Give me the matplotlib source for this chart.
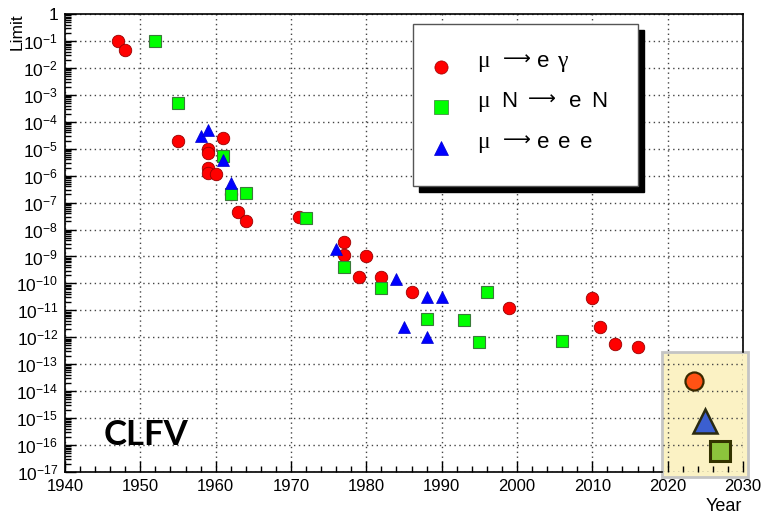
import numpy as np
import matplotlib
matplotlib.use('Agg')
import matplotlib.pyplot as plt
from matplotlib.patches import Rectangle

plt.rcParams['font.family'] = ['Liberation Sans', 'DejaVu Sans']
plt.rcParams['mathtext.fontset'] = 'custom'
plt.rcParams['mathtext.rm'] = 'Liberation Sans'
plt.rcParams['mathtext.it'] = 'Liberation Sans:italic'

# mu -> e gamma
meg_year = [1947, 1948, 1955, 1959, 1959, 1961, 1959, 1959, 1960, 1962, 1963, 1964,
            1971, 1977, 1977, 1980, 1979, 1982, 1986, 1999, 2010, 2011, 2013, 2016]
meg_limit = [1e-1, 4.5e-2, 2e-5, 1e-5, 7e-6, 2.6e-5, 2e-6, 1.3e-6, 1.2e-6, 2e-7, 4.4e-8, 2.1e-8,
             3e-8, 3.5e-9, 1.1e-9, 1e-9, 1.8e-10, 1.7e-10, 4.9e-11, 1.2e-11, 2.8e-11, 2.4e-12,
             5.7e-13, 4.2e-13]

# mu N -> e N
mne_year = [1952, 1955, 1961, 1962, 1964, 1972, 1977, 1982, 1988, 1993, 1996, 1995, 2006]
mne_limit = [1e-1, 5e-4, 5.4e-6, 2.1e-7, 2.2e-7, 2.7e-8, 4e-10, 7e-11, 4.6e-12, 4.3e-12,
             4.6e-11, 6.5e-13, 7e-13]

# mu -> e e e
m3e_year = [1958, 1959, 1961, 1962, 1976, 1984, 1988, 1990, 1985, 1988]
m3e_limit = [3e-5, 5e-5, 3.8e-6, 5.2e-7, 1.9e-9, 1.4e-10, 3.2e-11, 3.2e-11, 2.4e-12, 1e-12]

# projected sensitivities
fut_meg = (2023.5, 2.4e-14)
fut_m3e = (2025, 8e-16)
fut_mne = (2027, 6e-17)

xticks = list(range(1940, 2031, 10))
ydecades = list(range(-17, 1))
ylabels = ['1' if d == 0 else r'$10^{%d}$' % d for d in ydecades]

fig = plt.figure(figsize=(7.65, 5.16), dpi=100)
ax = fig.add_axes([65 / 765, 1 - 472 / 516, 678 / 765, 458 / 516])
ax.set_yscale('log')
ax.set_xlim(1940, 2030)
ax.set_ylim(1e-17, 1)

ax.set_xticks(xticks)
ax.set_xticklabels([str(x) for x in xticks], fontsize=12)
ax.set_xticks(np.arange(1940, 2031, 2), minor=True)
ax.set_yticks([10.0 ** d for d in ydecades])
ax.set_yticklabels(ylabels, fontsize=12.5)
ax.yaxis.set_minor_locator(matplotlib.ticker.LogLocator(base=10, subs=np.arange(2, 10), numticks=40))
ax.yaxis.set_minor_formatter(matplotlib.ticker.NullFormatter())
ax.tick_params(which='both', direction='in', top=False, right=False, width=1, color='black')
ax.tick_params(which='major', length=8, pad=5)
ax.tick_params(which='minor', length=4)
ax.grid(True, which='major', color='#444444', linestyle=(0, (1, 2.5)), linewidth=1)
ax.set_axisbelow('line')

for s in ax.spines.values():
    s.set_linewidth(1.2)

# shaded box for the upcoming experiments, spilling over the frame
ax.spines['bottom'].set_bounds(1940, 2019.2)
ax.spines['right'].set_bounds(10 ** -12.54, 1)
ax.add_patch(Rectangle((2019.2, 10 ** -17.17), 11.5, 10 ** -12.54 - 10 ** -17.17,
                       facecolor='#fbf2c4', edgecolor='#c4c4c4', linewidth=2,
                       zorder=0.3, clip_on=False))

ax.plot(meg_year, meg_limit, 'o', ms=9, mfc='#ff0000', mec='#990000', mew=0.6, ls='none', zorder=3)
ax.plot(mne_year, mne_limit, 's', ms=9, mfc='#00ff00', mec='#3a7a3a', mew=0.8, ls='none', zorder=3)
ax.plot(m3e_year, m3e_limit, '^', ms=9, mfc='#0000ff', mec='#0000cc', mew=0.5, ls='none', zorder=4)

ax.plot(*fut_meg, 'o', ms=13, mfc='#ff5214', mec='#3a2a00', mew=1.6, zorder=5)
ax.plot(*fut_m3e, '^', ms=17, mfc='#3b5fd0', mec='#2a2a10', mew=1.8, zorder=5)
ax.plot(*fut_mne, 's', ms=14, mfc='#8cc43c', mec='#333300', mew=2.2, zorder=5, clip_on=False)


def frac(px, py):
    return (px - 65) / 678, 1 - (py - 14) / 458


# hand-drawn legend with black drop shadow
lx0, ly0 = frac(413, 186)
lx1, ly1 = frac(638, 24)
sx, sy = frac(419, 192)
ax.add_patch(Rectangle((sx, sy), lx1 - lx0, ly1 - ly0, transform=ax.transAxes,
                       facecolor='black', edgecolor='black', zorder=9, clip_on=False))
ax.add_patch(Rectangle((lx0, ly0), lx1 - lx0, ly1 - ly0, transform=ax.transAxes,
                       facecolor='white', edgecolor='#555555', linewidth=1, zorder=10))

arrow = '\u27f6'
rows = [
    ('o', '#ff0000', '#990000', 67, [(477, '\u03bc', 'serif'), (503, arrow, 'dv'),
                                     (537, 'e', 'sans'), (557, '\u03b3', 'serif')]),
    ('s', '#00ff00', '#3a7a3a', 107, [(477, '\u03bc', 'serif'), (501, 'N', 'sans'),
                                      (528, arrow, 'dv'), (569, 'e', 'sans'),
                                      (591, 'N', 'sans')]),
    ('^', '#0000ff', '#0000cc', 148, [(477, '\u03bc', 'serif'), (503, arrow, 'dv'),
                                      (537, 'e', 'sans'), (558, 'e', 'sans'),
                                      (580, 'e', 'sans')]),
]
families = {'serif': ['Liberation Serif'], 'sans': ['Liberation Sans'], 'dv': ['DejaVu Sans']}
sizes = {'serif': 17, 'sans': 16, 'dv': 14}
lift = {'serif': 0, 'sans': 0, 'dv': 2.5}
for marker, fc, ec, py, pieces in rows:
    mx, my = frac(441, py)
    ax.plot(mx, my, marker, ms=9.5, mfc=fc, mec=ec, mew=0.5, transform=ax.transAxes,
            zorder=11, clip_on=False)
    for px, s, fam in pieces:
        tx, ty = frac(px, py - lift[fam])
        ax.text(tx, ty, s, transform=ax.transAxes, fontsize=sizes[fam], va='baseline',
                ha='left', family=families[fam], zorder=11)

cx, cy = frac(104, 445)
ax.text(cx, cy, 'CLFV', transform=ax.transAxes, fontsize=25, fontweight='bold',
        family=['Lato', 'DejaVu Sans'], va='baseline', ha='left', zorder=6)

fig.text(742 / 765, 1 - 515 / 516, 'Year', fontsize=13, ha='right', va='bottom')
fig.text(10 / 765, 1 - 13 / 516, 'Limit', fontsize=12.5, rotation=90, ha='left', va='top')

fig.savefig('out.png', dpi=100, facecolor='white')
